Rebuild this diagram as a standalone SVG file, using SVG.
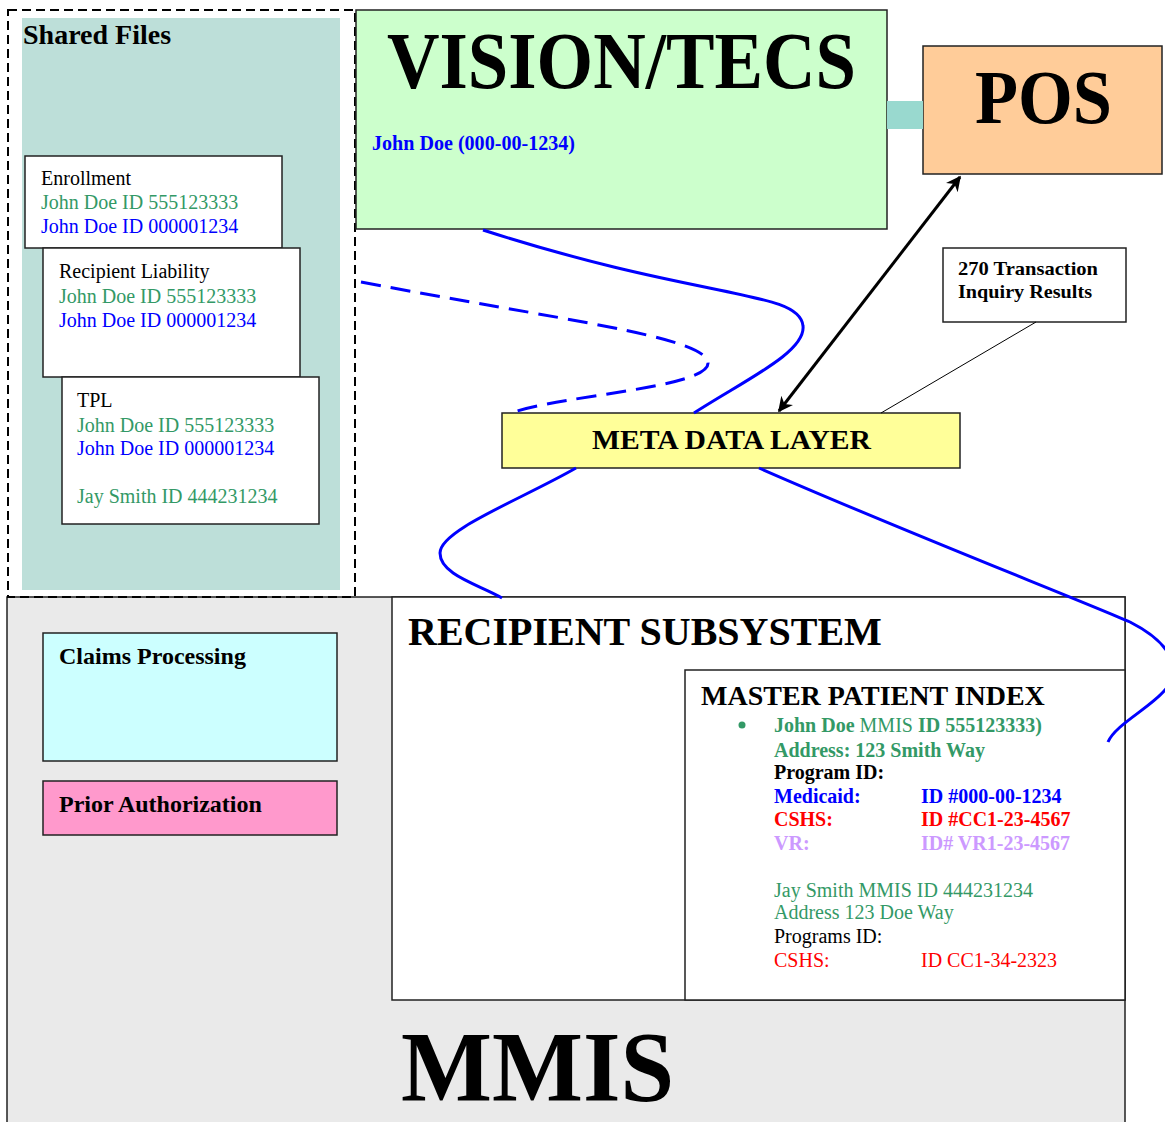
<svg xmlns="http://www.w3.org/2000/svg" width="1165" height="1122" viewBox="0 0 1165 1122">
<style>
text{font-family:"Liberation Serif","Times New Roman",serif;}
.b{font-weight:bold;}
.box{stroke:#222;stroke-width:1.5;}
.g{fill:#339966;}
.bl{fill:#0000FF;}
.r{fill:#FF0000;}
.v{fill:#CC99FF;}
.k{fill:#000;}
.t20{font-size:20px;}
.blue{fill:none;stroke:#0000FF;stroke-width:3;}
</style>
<defs>
<marker id="ah" viewBox="0 0 10 10" refX="9" refY="5" markerWidth="5" markerHeight="5" orient="auto-start-reverse" markerUnits="strokeWidth">
<path d="M0,0 L10,5 L0,10 L3,5 z" fill="#000"/>
</marker>
</defs>
<rect width="1165" height="1122" fill="#fff"/>

<g id="mmis">
<rect x="7" y="597" width="1118" height="540" fill="#EAEAEA" class="box"/>
<text x="401" y="1100" class="b k" font-size="100" textLength="273" lengthAdjust="spacingAndGlyphs">MMIS</text>
</g>

<g id="shared-files">
<rect x="22" y="18" width="318" height="572" fill="#BDDFD9"/>
<rect x="8" y="10" width="347" height="587" fill="none" stroke="#000" stroke-width="2" stroke-dasharray="9 5"/>
<text x="23" y="44" class="b k" font-size="28">Shared Files</text>
</g>

<g id="enrollment">
<rect x="25" y="156" width="257" height="92" fill="#fff" class="box"/>
<text x="41" y="185" class="k t20">Enrollment</text>
<text x="41" y="209" class="g t20">John Doe ID 555123333</text>
<text x="41" y="233" class="bl t20">John Doe ID 000001234</text>
</g>

<g id="recipient-liability">
<rect x="43" y="248" width="257" height="129" fill="#fff" class="box"/>
<text x="59" y="278" class="k t20" font-size="21">Recipient Liability</text>
<text x="59" y="303" class="g t20">John Doe ID 555123333</text>
<text x="59" y="327" class="bl t20">John Doe ID 000001234</text>
</g>

<g id="tpl">
<rect x="62" y="377" width="257" height="147" fill="#fff" class="box"/>
<text x="77" y="407" class="k t20" font-size="21">TPL</text>
<text x="77" y="432" class="g t20">John Doe ID 555123333</text>
<text x="77" y="455" class="bl t20">John Doe ID 000001234</text>
<text x="77" y="503" class="g t20">Jay Smith ID 444231234</text>
</g>

<g id="vision-tecs">
<rect x="356" y="10" width="531" height="219" fill="#CCFFCC" class="box"/>
<text x="387" y="88" class="b k" font-size="80" textLength="469" lengthAdjust="spacingAndGlyphs">VISION/TECS</text>
<text x="372" y="150" class="b bl" font-size="20" textLength="203" lengthAdjust="spacingAndGlyphs">John Doe (000-00-1234)</text>
</g>

<g id="pos">
<rect x="923" y="46" width="239" height="128" fill="#FFCC99" class="box"/>
<text x="975" y="123" class="b k" font-size="76" textLength="137" lengthAdjust="spacingAndGlyphs">POS</text>
</g>

<g id="inquiry-results">
<rect x="943" y="248" width="183" height="74" fill="#fff" class="box"/>
<text x="958" y="275" class="b k" font-size="19" textLength="140" lengthAdjust="spacingAndGlyphs">270 Transaction</text>
<text x="958" y="298" class="b k" font-size="19" textLength="134" lengthAdjust="spacingAndGlyphs">Inquiry Results</text>
</g>

<g id="meta-data-layer">
<rect x="502" y="413" width="458" height="55" fill="#FFFF99" class="box"/>
<text x="592" y="449" class="b k" font-size="27" textLength="279" lengthAdjust="spacingAndGlyphs">META DATA LAYER</text>
</g>

<g id="claims-processing">
<rect x="43" y="633" width="294" height="128" fill="#CCFFFF" class="box"/>
<text x="59" y="664" class="b k" font-size="24">Claims Processing</text>
</g>

<g id="prior-authorization">
<rect x="43" y="781" width="294" height="54" fill="#FF99CC" class="box"/>
<text x="59" y="812" class="b k" font-size="24">Prior Authorization</text>
</g>

<g id="recipient-subsystem">
<rect x="392" y="597" width="733" height="403" fill="#fff" class="box"/>
<text x="408" y="645" class="b k" font-size="40">RECIPIENT SUBSYSTEM</text>
</g>

<g id="master-patient-index">
<rect x="685" y="670" width="440" height="330" fill="#fff" class="box"/>
<text x="701" y="705" class="b k" font-size="28">MASTER PATIENT INDEX</text>
<circle cx="742" cy="725" r="3.5" fill="#339966"/>
<text x="774" y="732" class="g t20"><tspan class="b">John Doe</tspan> MMIS <tspan class="b">ID 555123333)</tspan></text>
<text x="774" y="757" class="g t20 b">Address: 123 Smith Way</text>
<text x="774" y="779" class="k t20 b">Program ID:</text>
<text x="774" y="803" class="bl t20 b">Medicaid:</text>
<text x="921" y="803" class="bl t20 b">ID #000-00-1234</text>
<text x="774" y="826" class="r t20 b">CSHS:</text>
<text x="921" y="826" class="r t20 b">ID #CC1-23-4567</text>
<text x="774" y="850" class="v t20 b">VR:</text>
<text x="921" y="850" class="v t20 b">ID# VR1-23-4567</text>
<text x="774" y="897" class="g t20">Jay Smith MMIS ID 444231234</text>
<text x="774" y="919" class="g t20">Address 123 Doe Way</text>
<text x="774" y="943" class="k t20">Programs ID:</text>
<text x="774" y="967" class="r t20">CSHS:</text>
<text x="921" y="967" class="r t20">ID CC1-34-2323</text>
</g>

<g id="connectors">
<rect x="887" y="101" width="36" height="28" fill="#99D9CF"/>
<line x1="960" y1="177" x2="779" y2="411" stroke="#000" stroke-width="3" marker-start="url(#ah)" marker-end="url(#ah)"/>
<line x1="1036" y1="322" x2="881" y2="413" stroke="#000" stroke-width="1"/>
<path class="blue" d="M483,230 C700,300 800,290 803,326 C806,352 745,380 694,413"/>
<path class="blue" stroke-width="3.5" stroke-dasharray="20 10" d="M361,282 C560,320 702,336 708,362 C712,388 560,395 511,413"/>
<path class="blue" d="M576,468 C520,500 440,530 440,553 C440,575 480,585 502,598"/>
<path class="blue" d="M759,468 C900,530 1080,600 1130,622 C1175,645 1182,672 1165,690 C1150,708 1115,725 1108,742"/>
</g>
</svg>
